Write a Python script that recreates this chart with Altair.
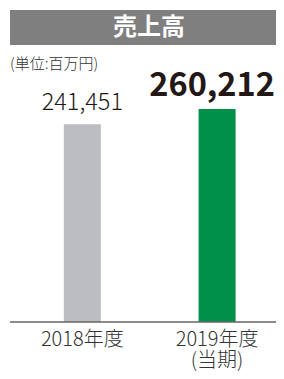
import altair as alt
import pandas as pd

categories = ["2018年度", "2019年度\n(当期)"]
values = [241451, 260212]
value_labels = ["241,451", "260,212"]
bar_colors = ["#bcbdc0", "#00904a"]

title_text = "売上高"
unit_text = "(単位:百万円)"

FONT = "Noto Sans CJK JP"
TXT = "#231815"

df = pd.DataFrame({
    "cat": categories,
    "value": values,
    "label": value_labels,
    "color": bar_colors,
    "idx": [0, 1],
})

TOP = 101      # svg y of the top of the tallest bar
BASE = 314     # svg y of the baseline
W = 268        # total svg width (fits inside the viewport)
H = 363        # total svg height

xscale = alt.Scale(domain=[-0.5143, 1.4], nice=False, zero=False)
yscale = alt.Scale(domain=[0, 260212], nice=False, zero=True)

X = alt.X("idx:Q", scale=xscale, axis=None)
Y = alt.Y("value:Q", scale=yscale, axis=None)

base = alt.Chart(df)

bars = base.mark_bar(size=37, orient="vertical").encode(
    x=X,
    y=Y,
    color=alt.Color("color:N", scale=None, legend=None),
)

lbl_small = base.transform_filter(alt.datum.idx == 0).mark_text(
    font=FONT, fontSize=23.5, fontWeight=300, color=TXT, baseline="alphabetic", dy=-14
).encode(x=X, y=Y, text="label:N")

lbl_big = base.transform_filter(alt.datum.idx == 1).mark_text(
    font=FONT, fontSize=32.5, fontWeight="bold", color=TXT, baseline="alphabetic", dy=-13, dx=-5
).encode(x=X, y=Y, text="label:N")

cat_lbl = base.mark_text(
    font=FONT, fontSize=20, fontWeight=300, color="#333333", baseline="alphabetic",
    lineBreak="\n", lineHeight=21
).encode(x=X, y=alt.value(338 - TOP), text="cat:N")

axis_line = base.mark_rule(color="#666666", strokeWidth=1.2).encode(
    x=alt.value(2), x2=alt.value(W), y=alt.value(BASE - TOP)
)

title_bg = base.mark_rect(color="#7f7f80").encode(
    x=alt.value(2), x2=alt.value(W), y=alt.value(2 - TOP), y2=alt.value(37 - TOP)
)

title = base.transform_filter(alt.datum.idx == 0).mark_text(
    font=FONT, fontSize=24, fontWeight="bold", color="white", baseline="middle", align="center"
).encode(x=alt.value(141), y=alt.value(20 - TOP), text=alt.value(title_text))

unit = base.transform_filter(alt.datum.idx == 0).mark_text(
    font=FONT, fontSize=15, fontWeight=300, color="#333333", baseline="alphabetic", align="left"
).encode(x=alt.value(2), y=alt.value(61 - TOP), text=alt.value(unit_text))

chart = alt.layer(
    title_bg, title, unit, bars, axis_line, lbl_small, lbl_big, cat_lbl
).properties(
    width=W, height=BASE - TOP,
    padding={"left": 0, "top": TOP, "right": 0, "bottom": H - BASE},
    autosize=alt.AutoSizeParams(type="none"),
).configure_view(stroke=None)

chart.save("out.html", embed_options={"renderer": "svg", "actions": False})
